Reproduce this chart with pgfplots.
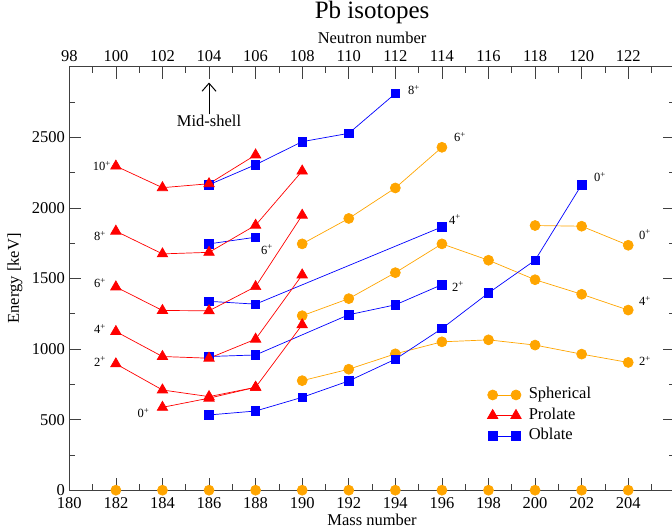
\documentclass[border=0pt]{standalone}
\usepackage{fontspec}
\setmainfont{Liberation Serif}
\usepackage{pgfplots}
\pgfplotsset{compat=1.18}
\usetikzlibrary{arrows.meta}
\definecolor{gorange}{RGB}{255,165,0}
\newcommand{\lab}{\fontsize{16.5}{19.8}\selectfont}
\newcommand{\spin}{\fontsize{12.5}{15}\selectfont}
\pgfplotsset{
 sph/.style={color=gorange, mark=*, mark size=5pt, line width=0.7pt, mark options={solid}},
 pro/.style={color=red, mark=triangle*, mark size=6pt, line width=0.7pt, mark options={solid}},
 obl/.style={color=blue, mark=square*, mark size=4.2pt, line width=0.7pt, mark options={solid}},
}
\begin{document}
\begin{tikzpicture}[font=\lab]
\begin{axis}[
 scale only axis, width=605.5pt, height=423.5pt,
 xmin=180, xmax=206, ymin=0, ymax=3000,
 clip=false, axis on top,
 xtick={180,182,...,204}, minor xtick={181,183,...,205},
 ytick={0,500,...,2500}, minor ytick={250,750,...,2750},
 xticklabel pos=lower, yticklabel pos=left,
 tick align=inside, major tick length=12pt, minor tick length=6pt,
 axis line style={black!75, line width=0.6pt},
 every tick/.style={black!75, line width=0.6pt},
 /pgf/number format/assume math mode=true, /pgf/number format/1000 sep={},
 scaled ticks=false,
 tick label style={font=\lab},
 xticklabel style={anchor=base, yshift=-18.3pt},
 yticklabel style={xshift=-1pt},
 xlabel={Mass number}, ylabel={Energy [keV]},
 label style={font=\lab},
 xlabel style={at={(axis description cs:0.5,0)}, anchor=base, yshift=-34.8pt},
 ylabel style={at={(axis description cs:-0.0897,0.5)}, anchor=center},
 legend style={draw=none, fill=none, at={(0.6903,0.2472)}, anchor=north west,
   inner sep=0pt, row sep=2pt, column sep=5.6pt,
   nodes={inner sep=2pt, text height=11pt, text depth=3.5pt}, font=\lab},
 legend cell align=left,
 legend image code/.code={\draw[#1] plot coordinates {(0pt,0pt) (23.3pt,0pt)};},
]
\addlegendimage{sph}\addlegendentry{Spherical}
\addlegendimage{pro}\addlegendentry{Prolate}
\addlegendimage{obl}\addlegendentry{Oblate}

% Spherical
\addplot[sph, only marks, forget plot] coordinates {(182,0) (184,0) (186,0) (188,0) (190,0) (192,0) (194,0) (196,0) (198,0) (200,0) (202,0) (204,0)};
\addplot[sph, forget plot] coordinates {(190,776) (192,857) (194,966) (196,1051) (198,1065) (200,1028) (202,964) (204,905)};
\addplot[sph, forget plot] coordinates {(190,1236) (192,1357) (194,1541) (196,1745) (198,1629) (200,1491) (202,1388) (204,1276)};
\addplot[sph, forget plot] coordinates {(190,1745) (192,1925) (194,2141) (196,2429)};
\addplot[sph, forget plot] coordinates {(200,1875) (202,1870) (204,1735)};

% Oblate
\addplot[obl, forget plot] coordinates {(186,533) (188,561) (190,658) (192,774) (194,928) (196,1145) (198,1397) (200,1629) (202,2164)};
\addplot[obl, forget plot] coordinates {(186,947) (188,958) (192,1243) (194,1313) (196,1456)};
\addplot[obl, forget plot] coordinates {(186,1338) (188,1318) (196,1865)};
\addplot[obl, forget plot] coordinates {(186,1745) (188,1792)};
\addplot[obl, forget plot] coordinates {(186,2164) (188,2306) (190,2469) (192,2528) (194,2810)};

% Prolate
\addplot[pro, forget plot] coordinates {(184,587) (186,652) (188,729)};
\addplot[pro, forget plot] coordinates {(182,895) (184,710) (186,663) (188,729) (190,1172)};
\addplot[pro, forget plot] coordinates {(182,1124) (184,947) (186,935) (188,1070) (190,1525)};
\addplot[pro, forget plot] coordinates {(182,1440) (184,1273) (186,1271) (188,1442) (190,1948)};
\addplot[pro, forget plot] coordinates {(182,1835) (184,1674) (186,1685) (188,1877) (190,2261)};
\addplot[pro, forget plot] coordinates {(182,2296) (184,2143) (186,2171) (188,2375)};

% spin labels
\node[font=\spin] at (axis cs:181.40,2294) {10\textsuperscript{+}};
\node[font=\spin] at (axis cs:181.32,1799) {8\textsuperscript{+}};
\node[font=\spin] at (axis cs:181.32,1468) {6\textsuperscript{+}};
\node[font=\spin] at (axis cs:181.32,1142) {4\textsuperscript{+}};
\node[font=\spin] at (axis cs:181.32,912) {2\textsuperscript{+}};
\node[font=\spin] at (axis cs:183.18,546) {0\textsuperscript{+}};
\node[font=\spin] at (axis cs:194.80,2835) {8\textsuperscript{+}};
\node[font=\spin] at (axis cs:196.78,2500) {6\textsuperscript{+}};
\node[font=\spin] at (axis cs:196.56,1918) {4\textsuperscript{+}};
\node[font=\spin] at (axis cs:196.69,1442) {2\textsuperscript{+}};
\node[font=\spin] at (axis cs:202.79,2216) {0\textsuperscript{+}};
\node[font=\spin] at (axis cs:204.72,1811) {0\textsuperscript{+}};
\node[font=\spin] at (axis cs:204.72,1338) {4\textsuperscript{+}};
\node[font=\spin] at (axis cs:204.72,917) {2\textsuperscript{+}};
\node[font=\spin] at (axis cs:188.49,1705) {6\textsuperscript{+}};

% mid-shell arrow
\draw[-{Straight Barb[length=8pt,width=14pt]}, line width=1pt] (axis cs:186,2663) -- (axis cs:186,2888);
\node[anchor=base, font=\lab] at (axis cs:186,2575) {Mid-shell};
\end{axis}

\begin{axis}[
 scale only axis, width=605.5pt, height=423.5pt,
 xmin=98, xmax=124, ymin=0, ymax=1,
 hide y axis, axis line style={draw=none},
 xtick={98,100,...,122}, xtick style={draw=none}, major tick length=0pt,
 xticklabel pos=upper,
 /pgf/number format/assume math mode=true,
 tick label style={font=\lab},
 xticklabel style={anchor=base, yshift=5pt},
 xlabel={Neutron number},
 xlabel style={at={(axis description cs:0.5,1)}, anchor=base, yshift=23.4pt, font=\lab},
 title={Pb isotopes},
 title style={at={(axis description cs:0.5,1)}, anchor=base, yshift=41.7pt, font=\fontsize{25}{30}\selectfont},
]
\end{axis}
\pgfresetboundingbox
\useasboundingbox (-69.3pt,-37.8pt) rectangle (602.7pt,490.2pt);
\end{tikzpicture}
\end{document}
